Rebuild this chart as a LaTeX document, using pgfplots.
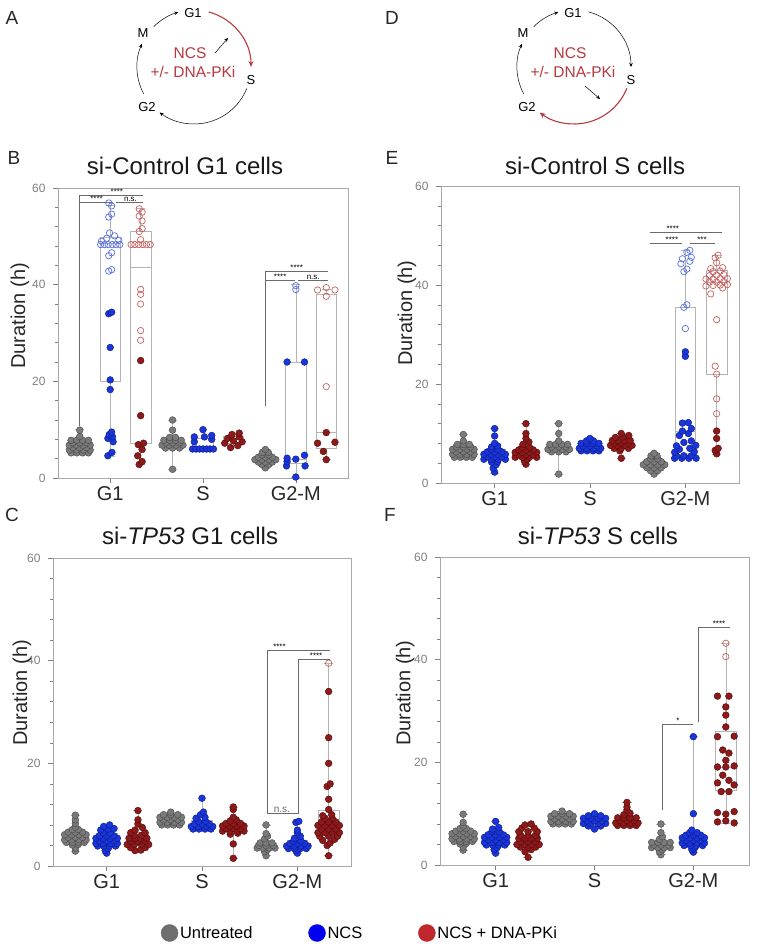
\documentclass[border=0pt]{standalone}
\usepackage{pgfplots}
\pgfplotsset{compat=1.18}
\usepgfplotslibrary{statistics}
\usetikzlibrary{arrows.meta}
\usepackage{fontspec}
\setmainfont{Liberation Sans}

\definecolor{ugF}{HTML}{7A7A7A}\definecolor{ugD}{HTML}{474747}
\definecolor{nbF}{HTML}{1A35D8}\definecolor{nbD}{HTML}{0A1A8A}
\definecolor{rrF}{HTML}{8C1A1A}\definecolor{rrD}{HTML}{560808}
\definecolor{hbc}{HTML}{5870E0}\definecolor{hrc}{HTML}{C86060}
\definecolor{boxc}{HTML}{B4B4B4}\definecolor{axc}{HTML}{A8A8A8}
\definecolor{tickc}{HTML}{808080}\definecolor{sigc}{HTML}{6A6A6A}
\definecolor{cycred}{HTML}{B83A3E}
\definecolor{lgG}{HTML}{6E6E6E}\definecolor{lgB}{HTML}{0000EE}\definecolor{lgR}{HTML}{C0272D}

\pgfplotsset{
 panel/.style={scale only axis, xmin=0, xmax=10, ymin=0, ymax=60,
  axis line style={axc, line width=0.8bp},
  ytick={0,20,40,60}, minor y tick num=4,
  xtick={1.8,5.0,8.2}, xticklabels={G1,S,G2-M},
  tick align=outside, tick pos=left,
  major tick length=5bp, minor tick length=3bp,
  every tick/.style={tickc, line width=0.6bp},
  yticklabel style={font=\fontsize{12bp}{14bp}\selectfont, text=tickc, xshift=-4bp},
  xticklabel style={font=\fontsize{20bp}{22bp}\selectfont, text=black!85},
  /pgf/number format/assume math mode=true,
  ylabel={Duration (h)}, ylabel style={font=\fontsize{20bp}{22bp}\selectfont, text=black!85},
  title style={font=\fontsize{24bp}{28bp}\selectfont, text=black!90},
  clip=false},
 ptG/.style={only marks, mark=*, mark size=3.4bp, mark options={fill=ugF, draw=ugD, line width=0.4bp}},
 ptB/.style={only marks, mark=*, mark size=3.4bp, mark options={fill=nbF, draw=nbD, line width=0.4bp}},
 ptR/.style={only marks, mark=*, mark size=3.4bp, mark options={fill=rrF, draw=rrD, line width=0.4bp}},
 ptHB/.style={only marks, mark=o, mark size=3.2bp, mark options={draw=hbc, line width=0.7bp}},
 ptHR/.style={only marks, mark=o, mark size=3.2bp, mark options={draw=hrc, line width=0.7bp}},
}
\newcommand{\bx}[6]{\addplot[forget plot, draw=boxc, line width=0.6bp, solid, mark=none,
  boxplot/draw direction=y,
  boxplot prepared={draw position=#1, lower whisker=#2, lower quartile=#3, median=#4,
  upper quartile=#5, upper whisker=#6, box extend=0.7, whisker extend=0.3}] coordinates {};}
\newcommand{\pts}[3]{\addplot[forget plot, #1] table[header=false, row sep=\\, x expr=\thisrowno{0}+#2, y index=1] {#3};}
\newcommand{\sig}[1]{\fontsize{8bp}{9bp}\selectfont #1}

\begin{document}
\begin{tikzpicture}
\useasboundingbox (0,0) rectangle (757bp,-949bp);

% ---------- cell cycle diagrams ----------
\begin{scope}[x=1bp,y=-1bp]
\foreach \cx/\lab in {194/A, 574/D}{
  \node[font=\fontsize{19bp}{20bp}\selectfont, text=black!85] at (\cx-182,18) {\lab};
  \node[font=\fontsize{13bp}{14bp}\selectfont] at (\cx-1,13) {G1};
  \node[font=\fontsize{13bp}{14bp}\selectfont] at (\cx+57,80) {S};
  \node[font=\fontsize{13bp}{14bp}\selectfont] at (\cx-47,107) {G2};
  \node[font=\fontsize{13bp}{14bp}\selectfont] at (\cx-51,33) {M};
  \node[font=\fontsize{15.5bp}{16bp}\selectfont, text=cycred] at (\cx-4,53) {NCS};
  \node[font=\fontsize{15.5bp}{16bp}\selectfont, text=cycred] at (\cx-1,72) {+/- DNA-PKi};
  \draw[line width=0.5bp, -{Stealth[length=4bp,width=3.5bp]}] ([shift={(225:57)}]\cx,67) arc[start angle=225, end angle=254, radius=57];
  \draw[line width=0.5bp, -{Stealth[length=4bp,width=3.5bp]}] ([shift={(152:57)}]\cx,67) arc[start angle=152, end angle=204, radius=57];
}
% A: G1->S red, S->G2 black
\draw[cycred, line width=1.1bp, -{Stealth[length=6bp,width=5bp]}] ([shift={(-75:57)}]194,67) arc[start angle=-75, end angle=0, radius=57];
\draw[line width=0.5bp, -{Stealth[length=4bp,width=3.5bp]}] ([shift={(22:57)}]194,67) arc[start angle=22, end angle=127, radius=57];
\draw[line width=0.5bp, -{Stealth[length=4bp,width=3.5bp]}] (215,53) -- (228,38);
% D: G1->S black, S->G2 red
\draw[line width=0.5bp, -{Stealth[length=4bp,width=3.5bp]}] ([shift={(-75:57)}]574,67) arc[start angle=-75, end angle=0, radius=57];
\draw[cycred, line width=1.1bp, -{Stealth[length=6bp,width=5bp]}] ([shift={(22:57)}]574,67) arc[start angle=22, end angle=127, radius=57];
\draw[line width=0.5bp, -{Stealth[length=4bp,width=3.5bp]}] (585,86) -- (600,99);
% panel letters
\node[font=\fontsize{19bp}{20bp}\selectfont, text=black!85] at (14,158) {B};
\node[font=\fontsize{19bp}{20bp}\selectfont, text=black!85] at (392,158) {E};
\node[font=\fontsize{19bp}{20bp}\selectfont, text=black!85] at (12,515) {C};
\node[font=\fontsize{19bp}{20bp}\selectfont, text=black!85] at (390,515) {F};
\end{scope}

% ================= B =================
\begin{axis}[panel, at={(58bp,-478bp)}, anchor=south west, width=290bp, height=290bp,
 title={si-Control G1 cells}, title style={at={(axis description cs:0.438,1.055)}, anchor=center},
 ylabel style={at={(axis description cs:-0.131,0.559)}, anchor=center}]
\bx{0.75}{5.0}{5.6}{6.5}{7.5}{10}
\bx{1.8}{4.5}{20.1}{48.5}{49.9}{56.5}
\bx{2.85}{2.8}{7.2}{43.5}{51}{55.7}
\bx{3.95}{1.8}{6.5}{7.3}{8.0}{12}
\bx{5.0}{5.9}{6.2}{6.6}{8.3}{10}
\bx{6.05}{6.3}{7.2}{8.0}{8.7}{9.3}
\bx{7.15}{2.0}{3.2}{3.8}{4.5}{6.0}
\bx{8.2}{0.2}{3.0}{3.8}{24.0}{40}
\bx{9.25}{3.8}{6.2}{9.5}{38.1}{39}
\pts{ptG}{0.75}{-0.3 5.2\\-0.1 5.2\\0.1 5.2\\0.3 5.2\\-0.36 5.8\\-0.12 5.8\\0.12 5.8\\0.36 5.8\\-0.24 6.3\\0 6.3\\0.24 6.3\\-0.36 6.8\\-0.12 6.8\\0.12 6.8\\0.36 6.8\\-0.24 7.3\\0 7.3\\0.24 7.3\\-0.3 7.8\\-0.1 7.8\\0.1 7.8\\0.3 7.8\\0 8.6\\0 9.9\\}
\pts{ptB}{1.8}{-0.08 4.6\\0.06 5.3\\0.1 7.5\\-0.08 8.2\\0.08 8.5\\-0.03 9.0\\0.05 9.5\\0 18.3\\0 20.3\\0 27.0\\-0.05 34.0\\0.05 34.3\\}
\pts{ptHB}{1.8}{-0.05 42.8\\0.05 43.1\\-0.05 46.0\\0.05 46.6\\-0.33 48.3\\-0.2 48.3\\-0.07 48.3\\0.07 48.3\\0.2 48.3\\0.33 48.3\\-0.3 49.0\\0.3 49.2\\-0.12 49.6\\0.15 50.1\\-0.02 50.7\\-0.05 54.0\\0.05 54.6\\0.05 56.3\\-0.05 56.9\\}
\pts{ptR}{2.85}{-0.05 2.8\\0.05 3.4\\-0.1 4.6\\0.05 5.9\\-0.08 6.9\\0.1 7.2\\0 12.9\\0 24.3\\}
\pts{ptHR}{2.85}{0 28.5\\0 30.5\\0 36.0\\0 38.0\\0 39.0\\-0.33 48.3\\-0.2 48.3\\-0.07 48.3\\0.07 48.3\\0.2 48.3\\0.33 48.3\\0 49.3\\-0.05 51.0\\0.05 51.6\\0.05 53.2\\-0.05 54.2\\0.05 55.0\\-0.05 55.7\\}
\pts{ptG}{3.95}{0 1.8\\-0.24 6.2\\0 6.2\\0.24 6.2\\-0.36 6.8\\-0.12 6.8\\0.12 6.8\\0.36 6.8\\-0.24 7.3\\0 7.3\\0.24 7.3\\-0.3 7.8\\-0.1 7.8\\0.1 7.8\\0.3 7.8\\-0.1 8.4\\0.1 8.4\\0 9.9\\0 12.0\\}
\pts{ptB}{5.0}{-0.36 6.0\\-0.24 6.0\\-0.12 6.0\\0 6.0\\0.12 6.0\\0.24 6.0\\0.36 6.0\\-0.3 7.5\\0.3 8.0\\-0.3 8.5\\0.05 8.5\\0.3 8.8\\0 10.0\\}
\pts{ptR}{6.05}{-0.1 6.3\\0.15 6.7\\-0.3 7.2\\0.3 7.5\\0 7.7\\-0.2 8.2\\0.2 8.5\\-0.05 9.0\\0.2 9.3\\}
\pts{ptG}{7.15}{0 2.1\\-0.12 2.8\\0.12 2.8\\-0.24 3.3\\0 3.3\\0.24 3.3\\-0.36 3.8\\-0.12 3.8\\0.12 3.8\\0.36 3.8\\-0.24 4.3\\0 4.3\\0.24 4.3\\-0.12 4.8\\0.12 4.8\\-0.1 5.3\\0.1 5.3\\0 5.9\\}
\pts{ptB}{8.2}{0 0.2\\-0.32 2.5\\0.32 2.5\\-0.3 3.4\\0 3.9\\-0.3 4.1\\0.3 4.7\\-0.3 24.0\\0.3 24.0\\}
\pts{ptHB}{8.2}{0 39.0\\0 39.8\\}
\pts{ptR}{9.25}{0 3.8\\-0.1 5.5\\-0.3 7.2\\0.3 7.4\\0 9.4\\}
\pts{ptHR}{9.25}{0 18.9\\0 37.6\\-0.3 38.9\\0.3 38.9\\0 39.4\\}
\draw[sigc, line width=0.5bp] (axis cs:0.72,10.7) -- (axis cs:0.72,58.6) -- (axis cs:2.93,58.6);
\draw[sigc, line width=0.5bp] (axis cs:0.72,57.1) -- (axis cs:1.9,57.1);
\draw[sigc, line width=0.5bp] (axis cs:2.0,57.1) -- (axis cs:2.93,57.1);
\node[above, inner sep=0.5bp] at (axis cs:2.03,58.6) {\sig{****}};
\node[above, inner sep=0.5bp] at (axis cs:1.33,57.1) {\sig{****}};
\node[above, inner sep=0.5bp] at (axis cs:2.5,57.1) {\sig{n.s.}};
\draw[sigc, line width=0.5bp] (axis cs:7.14,14.8) -- (axis cs:7.14,42.8) -- (axis cs:9.3,42.8);
\draw[sigc, line width=0.5bp] (axis cs:7.14,40.9) -- (axis cs:8.17,40.9);
\draw[sigc, line width=0.5bp] (axis cs:8.27,40.9) -- (axis cs:9.3,40.9);
\node[above, inner sep=0.5bp] at (axis cs:8.23,42.8) {\sig{****}};
\node[above, inner sep=0.5bp] at (axis cs:7.66,40.9) {\sig{****}};
\node[above, inner sep=0.5bp] at (axis cs:8.8,40.9) {\sig{n.s.}};
\end{axis}

% ================= E =================
\begin{axis}[panel, at={(441bp,-483bp)}, anchor=south west, width=298bp, height=297bp,
 title={si-Control S cells}, title style={at={(axis description cs:0.517,1.047)}, anchor=center},
 ylabel style={at={(axis description cs:-0.114,0.572)}, anchor=center}]
\bx{0.75}{5.0}{5.5}{6.5}{7.6}{9.8}
\bx{1.8}{2.0}{4.5}{5.8}{6.8}{11}
\bx{2.85}{3.8}{5.0}{6.0}{6.9}{12}
\bx{3.95}{1.8}{6.3}{7.2}{7.9}{12}
\bx{5.0}{6.3}{6.5}{7.2}{7.9}{9}
\bx{6.05}{5.0}{7.2}{8.0}{8.8}{10}
\bx{7.15}{1.8}{3.0}{3.7}{4.5}{6}
\bx{8.2}{4.8}{5.8}{10.5}{35.5}{47}
\bx{9.25}{5.8}{22.0}{40.5}{43.0}{46}
\pts{ptG}{0.75}{-0.3 5.2\\-0.1 5.2\\0.1 5.2\\0.3 5.2\\-0.36 5.8\\-0.12 5.8\\0.12 5.8\\0.36 5.8\\-0.24 6.3\\0 6.3\\0.24 6.3\\-0.36 6.8\\-0.12 6.8\\0.12 6.8\\0.36 6.8\\-0.24 7.3\\0 7.3\\0.24 7.3\\-0.2 7.8\\0 7.8\\0.2 7.8\\0 8.5\\0 9.8\\}
\pts{ptB}{1.8}{0 2.2\\-0.05 3.0\\0.05 3.7\\-0.1 4.2\\0.1 4.3\\-0.36 4.8\\-0.12 4.8\\0.12 4.8\\0.36 4.8\\-0.24 5.3\\0 5.3\\0.24 5.3\\-0.36 5.8\\-0.12 5.8\\0.12 5.8\\0.36 5.8\\-0.24 6.3\\0 6.3\\0.24 6.3\\-0.12 6.8\\0.12 6.8\\-0.1 7.3\\0.1 7.5\\0 8.0\\0 9.5\\0 11.0\\}
\pts{ptR}{2.85}{0 3.8\\-0.05 4.4\\0.05 4.8\\-0.36 5.2\\-0.12 5.2\\0.12 5.2\\0.36 5.2\\-0.24 5.7\\0 5.7\\0.24 5.7\\-0.36 6.2\\-0.12 6.2\\0.12 6.2\\0.36 6.2\\-0.24 6.7\\0 6.7\\0.24 6.7\\-0.12 7.2\\0.12 7.2\\-0.1 7.8\\0.1 8.3\\0 9.0\\0 10.0\\0 12.0\\}
\pts{ptG}{3.95}{0 1.8\\-0.24 6.3\\0 6.3\\0.24 6.3\\-0.36 6.8\\-0.12 6.8\\0.12 6.8\\0.36 6.8\\-0.24 7.3\\0 7.3\\0.24 7.3\\-0.3 7.8\\-0.1 7.8\\0.1 7.8\\0.3 7.8\\0 8.5\\0 10.0\\0 12.0\\}
\pts{ptB}{5.0}{-0.3 6.5\\-0.1 6.5\\0.1 6.5\\0.3 6.5\\-0.36 7.0\\-0.12 7.0\\0.12 7.0\\0.36 7.0\\-0.24 7.5\\0 7.5\\0.24 7.5\\-0.3 8.0\\-0.1 8.0\\0.1 8.0\\0.3 8.0\\-0.12 8.5\\0.12 8.5\\0 9.0\\}
\pts{ptR}{6.05}{0 5.0\\-0.05 6.5\\-0.24 7.0\\0 7.0\\0.24 7.0\\-0.36 7.6\\-0.12 7.6\\0.12 7.6\\0.36 7.6\\-0.24 8.1\\0 8.1\\0.24 8.1\\-0.3 8.6\\-0.1 8.6\\0.1 8.6\\0.3 8.6\\-0.2 9.2\\0.05 9.3\\0.25 9.6\\0 10.0\\}
\pts{ptG}{7.15}{0 1.8\\-0.12 2.5\\0.12 2.5\\-0.24 3.1\\0 3.1\\0.24 3.1\\-0.36 3.7\\-0.12 3.7\\0.12 3.7\\0.36 3.7\\-0.24 4.3\\0 4.3\\0.24 4.3\\-0.12 4.9\\0.12 4.9\\-0.1 5.5\\0.1 5.5\\0 6.0\\}
\pts{ptB}{8.2}{-0.36 5.0\\-0.12 5.0\\0.12 5.0\\0.36 5.0\\-0.3 5.5\\-0.05 5.5\\0.2 5.5\\-0.36 6.2\\0.3 6.3\\-0.2 6.8\\0.15 7.0\\-0.3 7.5\\0.35 7.6\\-0.05 8.2\\0.2 8.5\\-0.2 9.6\\0.1 10.0\\-0.1 10.5\\0.2 11.0\\-0.1 12.1\\0.1 12.2\\0 25.6\\0 26.5\\}
\pts{ptHB}{8.2}{0 31.2\\-0.05 35.5\\0.05 36.0\\-0.05 42.7\\0.05 43.2\\-0.15 44.3\\0.15 44.8\\-0.1 45.3\\0.2 45.6\\0.05 46.6\\0.15 47.0\\}
\pts{ptR}{9.25}{0 5.9\\-0.05 6.6\\0.05 7.0\\0 9.0\\0 10.5\\}
\pts{ptHR}{9.25}{0 14.0\\0 17.0\\0 22.0\\-0.05 23.6\\0 33.0\\-0.2 38.2\\0.2 39.4\\-0.36 39.8\\-0.12 39.9\\0.12 40.0\\0.36 40.1\\-0.24 40.6\\0 40.6\\0.24 40.7\\-0.36 41.2\\-0.12 41.2\\0.12 41.3\\0.36 41.3\\-0.24 41.9\\0 42.0\\0.24 42.1\\-0.12 42.7\\0.12 42.8\\-0.2 43.3\\0.2 43.5\\0 44.5\\-0.05 45.5\\0.05 46.0\\}
\draw[sigc, line width=0.5bp] (axis cs:7.0,50.7) -- (axis cs:9.43,50.7);
\draw[sigc, line width=0.5bp] (axis cs:7.0,48.4) -- (axis cs:8.09,48.4);
\draw[sigc, line width=0.5bp] (axis cs:8.36,48.4) -- (axis cs:9.2,48.4);
\node[above, inner sep=0.5bp] at (axis cs:7.78,50.7) {\sig{****}};
\node[above, inner sep=0.5bp] at (axis cs:7.75,48.4) {\sig{****}};
\node[above, inner sep=0.5bp] at (axis cs:8.76,48.4) {\sig{***}};
\end{axis}

% ================= C =================
\begin{axis}[panel, at={(53bp,-866bp)}, anchor=south west, width=298bp, height=308bp,
 title={si-\textit{TP53} G1 cells}, title style={at={(axis description cs:0.46,1.052)}, anchor=center},
 ylabel style={at={(axis description cs:-0.104,0.562)}, anchor=center},
 legend style={draw=none, fill=none, at={(axis description cs:0.352,-0.2175)}, anchor=west,
   legend columns=3, font=\fontsize{16.5bp}{18bp}\selectfont,
   /tikz/every even column/.append style={column sep=54bp}},
 legend cell align=left]
\addlegendimage{only marks, mark=*, mark size=8.5bp, mark options={fill=lgG, draw=lgG}}
\addlegendentry{Untreated}
\addlegendimage{only marks, mark=*, mark size=8.5bp, mark options={fill=lgB, draw=lgB}}
\addlegendentry{NCS}
\addlegendimage{only marks, mark=*, mark size=8.5bp, mark options={fill=lgR, draw=lgR}}
\addlegendentry{NCS + DNA-PKi}
\bx{0.75}{2.9}{4.6}{5.5}{6.5}{9.9}
\bx{1.8}{2.5}{4.0}{5.0}{6.3}{8.0}
\bx{2.85}{3.0}{4.0}{5.2}{6.6}{10.8}
\bx{3.95}{7.9}{8.5}{9.2}{10.0}{10.5}
\bx{5.0}{7.0}{7.5}{8.2}{9.0}{13.2}
\bx{6.05}{1.5}{7.0}{7.7}{8.5}{11.5}
\bx{7.15}{2.0}{3.4}{4.0}{4.5}{8.0}
\bx{8.2}{2.5}{3.5}{4.2}{5.0}{8.7}
\bx{9.25}{2.0}{6.6}{8.5}{10.9}{39.5}
\pts{ptG}{0.75}{0 2.9\\0 3.5\\-0.1 4.1\\0.1 4.2\\-0.3 4.6\\-0.1 4.6\\0.1 4.6\\0.3 4.6\\-0.36 5.1\\-0.12 5.1\\0.12 5.1\\0.36 5.1\\-0.24 5.6\\0 5.6\\0.24 5.6\\-0.36 6.1\\-0.12 6.1\\0.12 6.1\\0.36 6.1\\-0.24 6.6\\0 6.6\\0.24 6.6\\-0.1 7.1\\0.1 7.1\\0 7.6\\0 8.3\\0 9.0\\0 9.9\\}
\pts{ptB}{1.8}{0 2.5\\-0.05 3.0\\0.05 3.4\\-0.3 3.9\\-0.1 3.9\\0.1 3.9\\0.3 3.9\\-0.36 4.4\\-0.12 4.4\\0.12 4.4\\0.36 4.4\\-0.24 4.9\\0 4.9\\0.24 4.9\\-0.36 5.4\\-0.12 5.4\\0.12 5.4\\0.36 5.4\\-0.24 5.9\\0 5.9\\0.24 5.9\\-0.12 6.5\\0.12 6.5\\-0.2 7.0\\0.05 7.2\\0.25 7.3\\-0.1 7.7\\0.1 8.0\\}
\pts{ptR}{2.85}{-0.1 3.0\\0.1 3.1\\-0.25 3.6\\0.25 3.6\\-0.36 4.2\\-0.12 4.2\\0.12 4.2\\0.36 4.2\\-0.24 4.8\\0 4.8\\0.24 4.8\\-0.3 5.4\\-0.1 5.4\\0.1 5.4\\0.3 5.4\\-0.12 6.0\\0.12 6.0\\-0.24 6.5\\0.24 6.5\\-0.1 7.0\\0.15 7.5\\0 8.2\\0 9.0\\0 10.8\\}
\pts{ptG}{3.95}{-0.3 8.0\\-0.1 8.0\\0.1 8.0\\0.3 8.0\\-0.36 8.5\\-0.12 8.5\\0.12 8.5\\0.36 8.5\\-0.24 9.0\\0 9.0\\0.24 9.0\\-0.36 9.5\\-0.12 9.5\\0.12 9.5\\0.36 9.5\\-0.24 10.0\\0 10.0\\0.24 10.0\\0 10.5\\}
\pts{ptB}{5.0}{-0.3 7.2\\-0.1 7.2\\0.1 7.2\\0.3 7.2\\-0.36 7.7\\-0.12 7.7\\0.12 7.7\\0.36 7.7\\-0.24 8.2\\0 8.2\\0.24 8.2\\-0.12 8.7\\0.12 8.7\\-0.2 9.3\\0.1 9.5\\-0.05 10.0\\0.05 10.5\\0 13.2\\}
\pts{ptR}{6.05}{0 1.5\\0 4.3\\-0.1 6.2\\0.15 6.4\\-0.36 6.8\\-0.12 6.8\\0.12 6.8\\0.36 6.8\\-0.24 7.3\\0 7.3\\0.24 7.3\\-0.36 7.8\\-0.12 7.8\\0.12 7.8\\0.36 7.8\\-0.24 8.3\\0 8.3\\0.24 8.3\\-0.1 8.8\\0.1 9.0\\0 9.5\\0 11.0\\0 11.5\\}
\pts{ptG}{7.15}{0 2.0\\-0.05 2.8\\0.05 3.2\\-0.3 3.5\\-0.1 3.5\\0.1 3.5\\0.3 3.5\\-0.24 4.0\\0 4.0\\0.24 4.0\\-0.2 4.5\\0 4.5\\0.2 4.5\\-0.05 5.3\\0.05 5.8\\0 6.3\\0 8.0\\}
\pts{ptB}{8.2}{0 2.5\\-0.05 3.0\\-0.3 3.4\\-0.1 3.4\\0.1 3.4\\0.3 3.4\\-0.36 3.9\\-0.12 3.9\\0.12 3.9\\0.36 3.9\\-0.24 4.4\\0 4.4\\0.24 4.4\\-0.12 4.9\\0.12 4.9\\-0.1 5.4\\0.1 5.8\\0 6.5\\0 7.0\\-0.05 8.5\\0.05 8.7\\}
\pts{ptR}{9.25}{0 2.0\\-0.05 4.0\\0.05 4.5\\-0.2 5.0\\0.2 5.2\\-0.3 5.8\\0 5.8\\0.3 5.8\\-0.36 6.5\\-0.12 6.5\\0.12 6.5\\0.36 6.5\\-0.24 7.2\\0 7.2\\0.24 7.2\\-0.36 7.9\\-0.12 7.9\\0.12 7.9\\0.36 7.9\\-0.24 8.6\\0 8.6\\0.24 8.6\\-0.12 9.3\\0.12 9.3\\-0.2 9.8\\0.1 10.0\\0 11.0\\0 13.0\\-0.05 15.5\\0.05 16.0\\0 20.0\\0 25.0\\0 34.0\\}
\pts{ptHR}{9.25}{0 39.5\\}
\draw[sigc, line width=0.5bp] (axis cs:7.18,42.0) -- (axis cs:9.3,42.0);
\draw[sigc, line width=0.5bp] (axis cs:7.18,42.0) -- (axis cs:7.18,10.2) -- (axis cs:8.22,10.2) -- (axis cs:8.22,40.3) -- (axis cs:9.3,40.3);
\node[above, inner sep=0.5bp] at (axis cs:7.6,42.0) {\sig{****}};
\node[above, inner sep=0.5bp] at (axis cs:8.83,40.3) {\sig{****}};
\node[above, inner sep=1bp] at (axis cs:7.68,10.2) {\fontsize{10bp}{11bp}\selectfont\color{sigc}n.s.};
\end{axis}

% ================= F =================
\begin{axis}[panel, at={(440bp,-865bp)}, anchor=south west, width=309bp, height=308bp,
 title={si-\textit{TP53} S cells}, title style={at={(axis description cs:0.511,1.049)}, anchor=center},
 ylabel style={at={(axis description cs:-0.113,0.558)}, anchor=center}]
\bx{0.75}{2.9}{4.5}{5.5}{6.5}{9.9}
\bx{1.8}{2.3}{4.0}{5.0}{6.3}{8.5}
\bx{2.85}{1.5}{3.5}{4.8}{6.5}{8.0}
\bx{3.95}{7.9}{8.5}{9.2}{10.0}{10.5}
\bx{5.0}{7.0}{8.0}{8.7}{9.5}{10.0}
\bx{6.05}{7.5}{8.0}{8.6}{9.5}{12.2}
\bx{7.15}{2.0}{3.2}{3.8}{4.5}{8.0}
\bx{8.2}{2.5}{3.7}{4.8}{6.0}{25}
\bx{9.25}{8.2}{14.5}{19.0}{26.0}{43.2}
\pts{ptG}{0.75}{0 2.9\\0 3.5\\-0.1 4.1\\0.1 4.2\\-0.3 4.6\\-0.1 4.6\\0.1 4.6\\0.3 4.6\\-0.36 5.1\\-0.12 5.1\\0.12 5.1\\0.36 5.1\\-0.24 5.6\\0 5.6\\0.24 5.6\\-0.36 6.1\\-0.12 6.1\\0.12 6.1\\0.36 6.1\\-0.24 6.6\\0 6.6\\0.24 6.6\\-0.1 7.1\\0.1 7.1\\0 7.6\\0 8.3\\0 9.9\\}
\pts{ptB}{1.8}{0 2.3\\-0.05 3.0\\0.05 3.4\\-0.3 3.9\\-0.1 3.9\\0.1 3.9\\0.3 3.9\\-0.36 4.4\\-0.12 4.4\\0.12 4.4\\0.36 4.4\\-0.24 4.9\\0 4.9\\0.24 4.9\\-0.36 5.4\\-0.12 5.4\\0.12 5.4\\0.36 5.4\\-0.24 5.9\\0 5.9\\0.24 5.9\\-0.12 6.5\\0.12 6.5\\-0.1 7.0\\0.1 7.3\\0 8.5\\}
\pts{ptR}{2.85}{0 1.5\\-0.1 2.6\\0.1 3.0\\-0.25 3.5\\0 3.5\\0.25 3.5\\-0.36 4.0\\-0.12 4.0\\0.12 4.0\\0.36 4.0\\-0.24 4.6\\0 4.6\\0.24 4.6\\-0.3 5.2\\-0.1 5.2\\0.1 5.2\\0.3 5.2\\-0.24 5.8\\0 5.8\\0.24 5.8\\-0.3 6.5\\0 6.5\\0.3 6.5\\-0.2 7.2\\0.2 7.2\\-0.1 7.8\\0.1 8.0\\}
\pts{ptG}{3.95}{-0.3 8.0\\-0.1 8.0\\0.1 8.0\\0.3 8.0\\-0.36 8.5\\-0.12 8.5\\0.12 8.5\\0.36 8.5\\-0.24 9.0\\0 9.0\\0.24 9.0\\-0.36 9.5\\-0.12 9.5\\0.12 9.5\\0.36 9.5\\-0.24 10.0\\0 10.0\\0.24 10.0\\0 10.5\\}
\pts{ptB}{5.0}{0 7.0\\-0.2 7.6\\0.2 7.6\\-0.36 8.1\\-0.12 8.1\\0.12 8.1\\0.36 8.1\\-0.24 8.6\\0 8.6\\0.24 8.6\\-0.36 9.1\\-0.12 9.1\\0.12 9.1\\0.36 9.1\\-0.2 9.6\\0.2 9.6\\0 10.0\\}
\pts{ptR}{6.05}{-0.3 7.7\\-0.1 7.7\\0.1 7.7\\0.3 7.7\\-0.36 8.2\\-0.12 8.2\\0.12 8.2\\0.36 8.2\\-0.24 8.7\\0 8.7\\0.24 8.7\\-0.3 9.2\\-0.1 9.2\\0.1 9.2\\0.3 9.2\\-0.1 9.8\\0.1 10.1\\0 10.7\\0 11.3\\0 12.2\\}
\pts{ptG}{7.15}{0 2.0\\-0.05 2.6\\0.05 3.0\\-0.3 3.4\\-0.1 3.4\\0.1 3.4\\0.3 3.4\\-0.24 3.9\\0 3.9\\0.24 3.9\\-0.3 4.4\\-0.1 4.4\\0.1 4.4\\0.3 4.4\\-0.05 5.0\\0.05 5.5\\0 6.3\\0 8.0\\}
\pts{ptB}{8.2}{0 2.5\\-0.05 3.0\\0.05 3.4\\-0.3 3.8\\-0.1 3.8\\0.1 3.8\\0.3 3.8\\-0.36 4.3\\-0.12 4.3\\0.12 4.3\\0.36 4.3\\-0.24 4.8\\0 4.8\\0.24 4.8\\-0.36 5.3\\-0.12 5.3\\0.12 5.3\\0.36 5.3\\-0.24 5.8\\0 5.8\\0.24 5.8\\-0.12 6.3\\0.12 6.3\\-0.05 6.8\\0 10.0\\0 25.0\\}
\pts{ptR}{9.25}{-0.27 32.9\\0.1 32.9\\0 30.8\\0 29.2\\0 26.9\\-0.27 25.0\\0.27 25.1\\-0.1 22.4\\0.1 21.8\\0 20.4\\-0.27 19.1\\0 19.1\\0.27 19.3\\-0.1 17.5\\-0.27 16.0\\0.1 16.5\\0.27 15.6\\-0.15 14.3\\0.1 14.3\\-0.27 10.2\\0 9.9\\0.27 10.4\\-0.27 8.4\\0 8.6\\0.27 8.2\\}
\pts{ptHR}{9.25}{0 40.6\\0 43.2\\}
\draw[sigc, line width=0.5bp] (axis cs:7.18,10.7) -- (axis cs:7.18,27.4) -- (axis cs:8.19,27.4);
\draw[sigc, line width=0.5bp] (axis cs:8.35,27.9) -- (axis cs:8.35,46.4) -- (axis cs:9.39,46.4);
\node[above, inner sep=0.5bp] at (axis cs:7.7,27.4) {\sig{*}};
\node[above, inner sep=0.5bp] at (axis cs:9.03,46.4) {\sig{****}};
\end{axis}
\end{tikzpicture}
\end{document}
